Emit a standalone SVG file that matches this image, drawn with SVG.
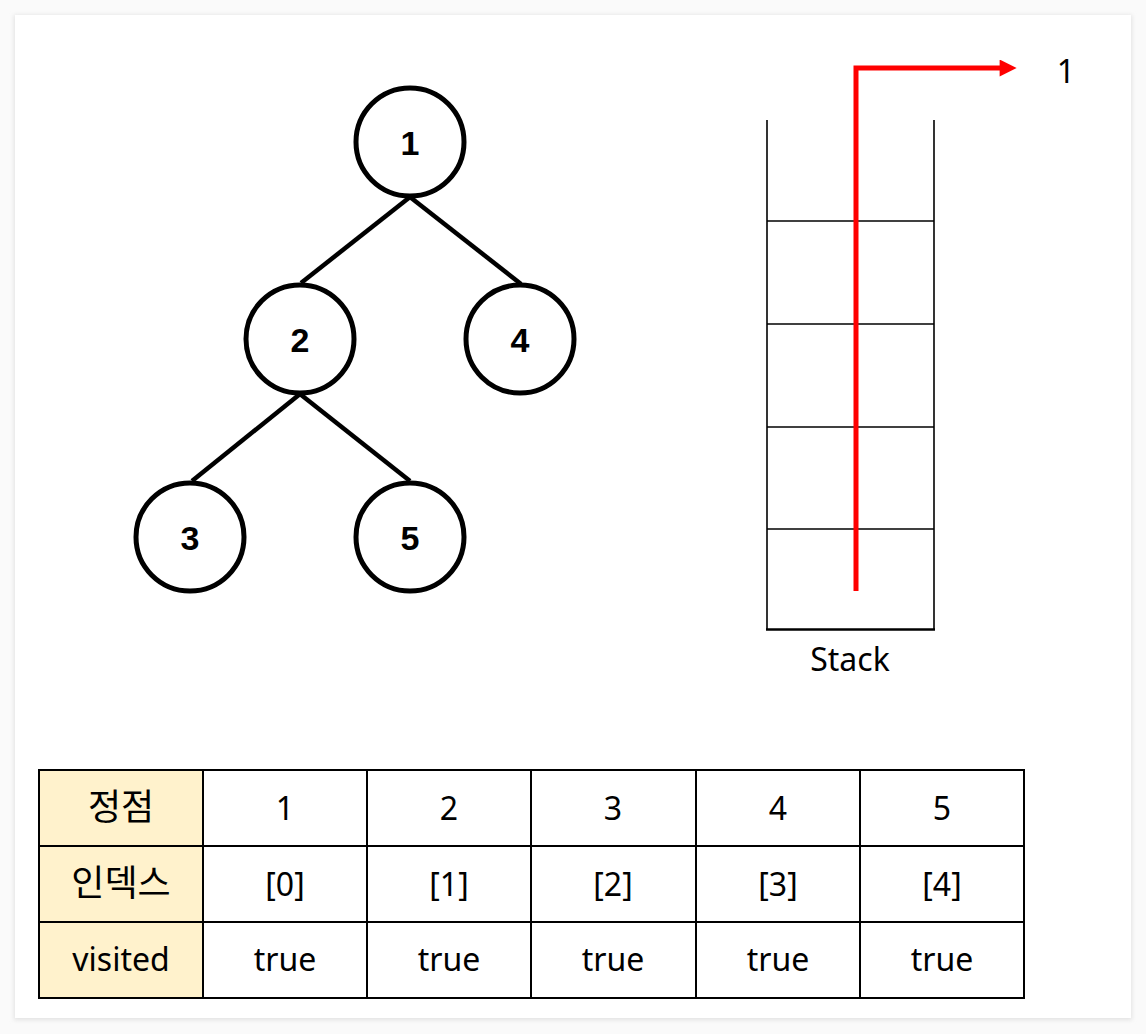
<svg xmlns="http://www.w3.org/2000/svg" width="1146" height="1034" viewBox="0 0 1146 1034">
<defs>
<style>
.node circle{fill:#fff;stroke:#000;stroke-width:5}
.node text{font-family:"Liberation Sans",Arial,sans-serif;font-weight:bold;font-size:34px;text-anchor:middle;dominant-baseline:central}
.edge{stroke:#000;stroke-width:4.5;fill:none}
.stk{stroke:#000;stroke-width:1.6;fill:none}
.lbl{font-family:"Noto Sans","Noto Sans CJK KR",sans-serif;font-size:32px;text-anchor:middle;dominant-baseline:central;fill:#000}
.ko{font-family:"Noto Sans CJK KR",sans-serif;font-size:36px}
.cell{stroke:#000;stroke-width:2;fill:#fff}
.hdr{stroke:#000;stroke-width:2;fill:#fff2cc}
</style>
<marker id="ah" viewBox="0 0 10 10" refX="2" refY="5" markerWidth="4" markerHeight="3.4" orient="auto" markerUnits="strokeWidth">
<path d="M0,0 L10,5 L0,10 z" fill="#ff0000"/>
</marker>
<filter id="sh" x="-5%" y="-5%" width="110%" height="110%"><feGaussianBlur stdDeviation="2"/></filter>
</defs>
<rect width="1146" height="1034" fill="#fafafa"/>
<rect x="14" y="15" width="1118" height="1005" fill="#e2e2e2" filter="url(#sh)"/>
<rect x="15" y="15" width="1116" height="1003" fill="#fff"/>
<g id="connectors">
<line class="edge" x1="410" y1="197" x2="301" y2="283"/>
<line class="edge" x1="410" y1="197" x2="521" y2="284"/>
<line class="edge" x1="300" y1="394" x2="192" y2="481"/>
<line class="edge" x1="300" y1="394" x2="410" y2="481"/>
</g>
<g id="node1" class="node"><circle cx="410" cy="142" r="54"/><text x="410" y="143">1</text></g>
<g id="node2" class="node"><circle cx="300" cy="339" r="54"/><text x="300" y="340">2</text></g>
<g id="node4" class="node"><circle cx="520" cy="339" r="54"/><text x="520" y="340">4</text></g>
<g id="node3" class="node"><circle cx="190" cy="537" r="54"/><text x="190" y="538">3</text></g>
<g id="node5" class="node"><circle cx="410" cy="537" r="54"/><text x="410" y="538">5</text></g>
<g id="stack">
<line class="stk" x1="767" y1="120" x2="767" y2="630"/>
<line class="stk" x1="934" y1="120" x2="934" y2="630"/>
<line class="stk" x1="767" y1="221" x2="934" y2="221"/>
<line class="stk" x1="767" y1="324" x2="934" y2="324"/>
<line class="stk" x1="767" y1="427" x2="934" y2="427"/>
<line class="stk" x1="767" y1="529" x2="934" y2="529"/>
<line x1="766" y1="629.5" x2="935" y2="629.5" stroke="#000" stroke-width="2.5"/>
<text class="lbl" x="850" y="658">Stack</text>
</g>
<g id="pop-arrow">
<polyline points="856,591 856,68 1003,68" fill="none" stroke="#ff0000" stroke-width="5" marker-end="url(#ah)"/>
<text class="lbl" x="1066" y="70">1</text>
</g>
<g id="table">
<rect class="hdr" x="39" y="770" width="164" height="76"/>
<rect class="hdr" x="39" y="846" width="164" height="76"/>
<rect class="hdr" x="39" y="922" width="164" height="76"/>
<g>
<rect class="cell" x="203" y="770" width="164" height="76"/><rect class="cell" x="367" y="770" width="164" height="76"/><rect class="cell" x="531" y="770" width="165" height="76"/><rect class="cell" x="696" y="770" width="164" height="76"/><rect class="cell" x="860" y="770" width="164" height="76"/>
<rect class="cell" x="203" y="846" width="164" height="76"/><rect class="cell" x="367" y="846" width="164" height="76"/><rect class="cell" x="531" y="846" width="165" height="76"/><rect class="cell" x="696" y="846" width="164" height="76"/><rect class="cell" x="860" y="846" width="164" height="76"/>
<rect class="cell" x="203" y="922" width="164" height="76"/><rect class="cell" x="367" y="922" width="164" height="76"/><rect class="cell" x="531" y="922" width="165" height="76"/><rect class="cell" x="696" y="922" width="164" height="76"/><rect class="cell" x="860" y="922" width="164" height="76"/>
</g>
<text class="lbl ko" x="121" y="804">정점</text>
<text class="lbl ko" x="121" y="880">인덱스</text>
<text class="lbl" x="121" y="958">visited</text>
<text class="lbl" x="285" y="807">1</text><text class="lbl" x="449" y="807">2</text><text class="lbl" x="613" y="807">3</text><text class="lbl" x="778" y="807">4</text><text class="lbl" x="942" y="807">5</text>
<text class="lbl" x="285" y="883">[0]</text><text class="lbl" x="449" y="883">[1]</text><text class="lbl" x="613" y="883">[2]</text><text class="lbl" x="778" y="883">[3]</text><text class="lbl" x="942" y="883">[4]</text>
<text class="lbl" x="285" y="958">true</text><text class="lbl" x="449" y="958">true</text><text class="lbl" x="613" y="958">true</text><text class="lbl" x="778" y="958">true</text><text class="lbl" x="942" y="958">true</text>
</g>
</svg>
